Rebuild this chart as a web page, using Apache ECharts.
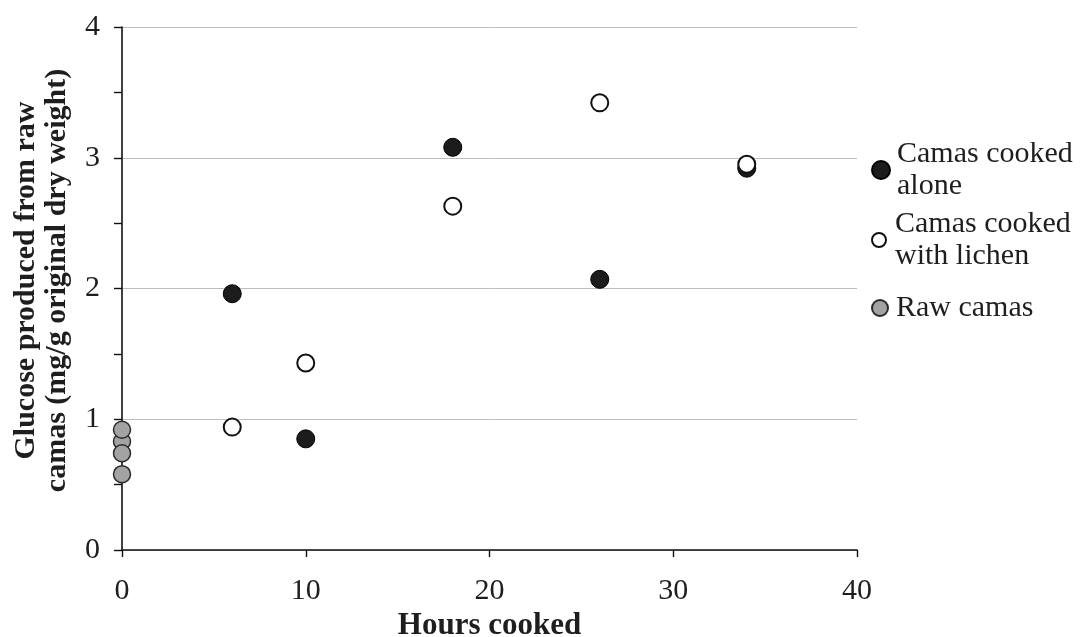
<!DOCTYPE html>
<html>
<head>
<meta charset="utf-8">
<script src="https://cdn.jsdelivr.net/npm/echarts@6/dist/echarts.min.js"></script>
<style>
  html, body { margin: 0; padding: 0; background: #ffffff; }
  #chart { width: 1081px; height: 637px; }
</style>
</head>
<body>
<div id="chart"></div>
<script>
// Glucose released from camas bulbs by cooking time
const seriesNames = ['Camas cooked alone', 'Camas cooked with lichen', 'Raw camas'];
const legendLabels = ['Camas cooked\nalone', 'Camas cooked\nwith lichen', 'Raw camas'];

const hoursCooked = [6, 10, 18, 26, 34];
const glucoseAlone = [1.96, 0.85, 3.08, 2.07, 2.92];
const glucoseLichen = [0.94, 1.43, 2.63, 3.42, 2.95];

const rawHours = [0, 0, 0, 0];
const glucoseRaw = [0.83, 0.92, 0.74, 0.58];

const xTicks = { min: 0, max: 40, step: 10 };
const yTicks = { min: 0, max: 4, step: 1 };

const pairs = (xs, ys) => xs.map((x, i) => [x, ys[i]]);

const serif = '"Liberation Serif", "Times New Roman", "DejaVu Serif", serif';
const labelStyle = { fontFamily: serif, fontSize: 30, color: '#1e1e1e' };

function legendAt(name, label, top, iconH, twoLines) {
  return {
    data: [name],
    orient: 'vertical',
    left: 871,
    top: top,
    padding: 0,
    itemWidth: 22,
    itemHeight: iconH,
    formatter: () => label,
    textStyle: {
      fontFamily: serif,
      fontSize: 30,
      lineHeight: 32,
      color: '#1e1e1e',
      padding: twoLines ? [32, 0, 0, 0] : 0
    }
  };
}

const chart = echarts.init(document.getElementById('chart'), null, { renderer: 'canvas' });

chart.setOption({
  backgroundColor: '#ffffff',
  animation: false,
  grid: { left: 122, right: 224, top: 27, bottom: 87, containLabel: false, outerBoundsMode: 'none' },
  legend: [
    legendAt(seriesNames[0], legendLabels[0], 122, 18, true),
    legendAt(seriesNames[1], legendLabels[1], 192, 14, true),
    legendAt(seriesNames[2], legendLabels[2], 292, 16, false)
  ],
  xAxis: {
    type: 'value',
    min: xTicks.min,
    max: xTicks.max,
    interval: xTicks.step,
    name: 'Hours cooked',
    nameLocation: 'middle',
    nameGap: 60,
    nameTextStyle: { fontFamily: serif, fontSize: 31, fontWeight: 'bold', color: '#1e1e1e' },
    axisLine: { show: true, onZero: false, lineStyle: { color: '#111', width: 1.6 } },
    axisTick: { show: true, inside: false, length: 7, lineStyle: { color: '#111', width: 1.4 } },
    axisLabel: Object.assign({ margin: 26 }, labelStyle),
    splitLine: { show: false }
  },
  yAxis: {
    type: 'value',
    min: yTicks.min,
    max: yTicks.max,
    interval: yTicks.step,
    name: 'Glucose produced from raw\ncamas (mg/g original dry weight)',
    nameLocation: 'middle',
    nameGap: 49,
    nameTextStyle: {
      fontFamily: serif, fontSize: 30, fontWeight: 'bold', color: '#1e1e1e',
      lineHeight: 31, padding: [0, 0, 0, 16]
    },
    axisLine: { show: true, onZero: false, lineStyle: { color: '#111', width: 1.6 } },
    axisTick: { show: true, inside: false, length: 8, lineStyle: { color: '#111', width: 1.4 } },
    minorTick: { show: true, splitNumber: 2, length: 8, lineStyle: { color: '#111', width: 1.4 } },
    axisLabel: Object.assign({ margin: 22 }, labelStyle),
    splitLine: { show: true, lineStyle: { color: '#bdbdbd', width: 1 } }
  },
  series: [
    {
      name: seriesNames[0],
      type: 'scatter',
      symbol: 'circle',
      symbolSize: 18,
      data: pairs(hoursCooked, glucoseAlone),
      itemStyle: { color: '#1c1c1c', borderColor: '#000', borderWidth: 1, opacity: 1 }
    },
    {
      name: seriesNames[1],
      type: 'scatter',
      symbol: 'circle',
      symbolSize: 17,
      data: pairs(hoursCooked, glucoseLichen),
      itemStyle: { color: '#ffffff', borderColor: '#111', borderWidth: 2, opacity: 1 }
    },
    {
      name: seriesNames[2],
      type: 'scatter',
      symbol: 'circle',
      symbolSize: 17,
      data: pairs(rawHours, glucoseRaw),
      itemStyle: { color: '#a3a3a3', borderColor: '#2a2a2a', borderWidth: 1.5, opacity: 1 }
    }
  ]
});
</script>
</body>
</html>
